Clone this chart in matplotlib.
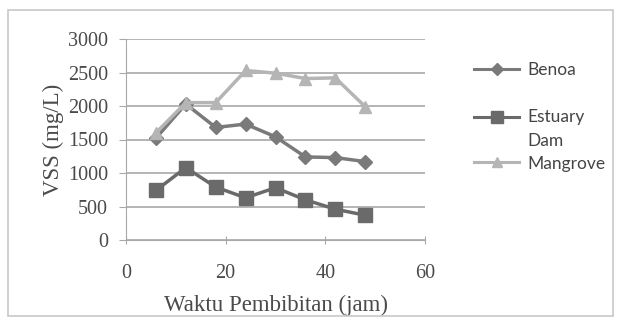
import matplotlib
matplotlib.use('Agg')
import matplotlib.pyplot as plt
from matplotlib.patches import Rectangle

# data
waktu = [6, 12, 18, 24, 30, 36, 42, 48]
benoa = [1520, 2030, 1680, 1730, 1540, 1240, 1230, 1170]
estuary = [740, 1080, 790, 630, 780, 600, 460, 370]
mangrove = [1600, 2050, 2050, 2530, 2490, 2410, 2420, 1990]
labels = ['Benoa', ' \nEstuary\nDam', 'Mangrove']

fig = plt.figure(figsize=(6.21, 3.22), dpi=100)
fig.patches.append(Rectangle((8/621, 6/322), 605/621, 306/322, transform=fig.transFigure,
                             fill=False, edgecolor='#c8c8c8', linewidth=1.2))
ax = fig.add_axes([126/621, 1 - 240/322, 299/621, 201/322])

ax.plot(waktu, benoa, color='#7a7a7a', marker='D', markersize=7, linewidth=2.5, label=labels[0])
ax.plot(waktu, estuary, color='#6a6a6a', marker='s', markersize=10, linewidth=2.5, label=labels[1])
ax.plot(waktu, mangrove, color='#b5b5b5', marker='^', markersize=9, linewidth=2.5, label=labels[2])

ax.set_xlim(0, 60)
ax.set_ylim(0, 3000)
ax.set_xticks([0, 20, 40, 60])
ax.set_yticks(range(0, 3001, 500))
ax.yaxis.grid(True, color='#a8a8a8', linewidth=1.2)
ax.set_axisbelow(True)
for s in ['top', 'right']:
    ax.spines[s].set_visible(False)
ax.spines['left'].set_color('#a8a8a8')
ax.spines['bottom'].set_color('#a8a8a8')
ax.tick_params(axis='y', length=5, color='#a8a8a8', pad=8)
ax.tick_params(axis='x', length=6, color='#a8a8a8', direction='inout', pad=14)
for t in ax.get_xticklabels() + ax.get_yticklabels():
    t.set_fontfamily('Liberation Serif')
    t.set_fontsize(14.5)
    t.set_color('#4a4a4a')
ax.set_xlabel('Waktu Pembibitan (jam)', fontfamily='Liberation Serif', fontsize=16.5,
              color='#4a4a4a', labelpad=9)
ax.set_ylabel('VSS (mg/L)', fontfamily='Liberation Serif', fontsize=16.5,
              color='#4a4a4a', labelpad=3)

leg = ax.legend(loc='center left', bbox_to_anchor=(474/621, 1 - 117/322),
                bbox_transform=fig.transFigure, frameon=False,
                prop={'family': 'Lato', 'size': 12.5}, labelspacing=0.35,
                handlelength=2.6, handletextpad=0.45, borderpad=0, borderaxespad=0)
for t in leg.get_texts():
    t.set_color('#444444')
    t.set_linespacing(1.65)
for h, ms in zip(leg.legend_handles, [6, 8, 7]):
    h.set_markersize(ms)
    h.set_linewidth(2.2)

fig.savefig('out.png', dpi=100)
